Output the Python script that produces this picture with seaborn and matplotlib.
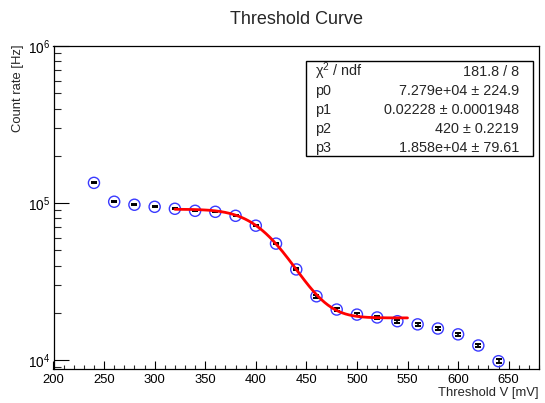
import math
import numpy as np
import pandas as pd
import matplotlib
matplotlib.use("Agg")
import matplotlib.pyplot as plt
from matplotlib.patches import Rectangle
from matplotlib.ticker import LogLocator, FixedLocator, NullFormatter
import seaborn as sns

# ---- data ----
threshold = [240, 260, 280, 300, 320, 340, 360, 380, 400, 420, 440,
             460, 480, 500, 520, 540, 560, 580, 600, 620, 640]
rate = [1.345e5, 1.02e5, 9.76e4, 9.47e4, 9.2e4, 8.93e4, 8.8e4, 8.3e4, 7.18e4,
        5.52e4, 3.78e4, 2.55e4, 2.1e4, 1.95e4, 1.87e4, 1.77e4, 1.69e4,
        1.59e4, 1.46e4, 1.24e4, 9.85e3]
rate_err = [1000, 880, 860, 840, 830, 820, 810, 790, 740, 650, 540,
            450, 410, 390, 380, 370, 360, 350, 340, 310, 290]
fit_range = [320, 550]
par_names = ["p0", "p1", "p2", "p3"]
par_values = [7.279e4, 0.02228, 420.0, 1.858e4]
par_labels = ["7.279e+04 \u00b1 224.9", "0.02228 \u00b1 0.0001948",
              "420 \u00b1 0.2219", "1.858e+04 \u00b1 79.61"]
chi2_label = "181.8 / 8"

df = pd.DataFrame({"threshold": threshold, "rate": rate, "err": rate_err})

fx = np.linspace(fit_range[0], fit_range[1], 200)
p0, p1, p2, p3 = par_values
fy = [p0 / 2 * math.erfc(p1 * (x - p2)) + p3 for x in fx]
fit_df = pd.DataFrame({"x": fx, "y": fy})

# ---- style ----
sns.set_theme(style="ticks")
plt.rcParams["font.family"] = ["Liberation Sans", "DejaVu Sans"]
plt.rcParams["mathtext.fontset"] = "custom"
plt.rcParams["mathtext.rm"] = "Liberation Sans"
plt.rcParams["mathtext.it"] = "Liberation Sans:italic"
plt.rcParams["mathtext.bf"] = "Liberation Sans:bold"

W, H = 545, 403
fig = plt.figure(figsize=(W / 100, H / 100), dpi=100)
L, R, T, B = 53.5, 539, 46, 368.5
ax = fig.add_axes([L / W, 1 - B / H, (R - L) / W, (B - T) / H])

ax.errorbar(df["threshold"], df["rate"], yerr=df["err"], fmt="none",
            ecolor="black", elinewidth=1.2, capsize=2.0, capthick=1.4, zorder=2)
sns.scatterplot(data=df, x="threshold", y="rate", ax=ax, marker="o",
                s=64, facecolors="none", edgecolor="#3a3aff", linewidth=1.0,
                zorder=3, legend=False)
sns.lineplot(data=fit_df, x="x", y="y", ax=ax, color="red", linewidth=2.0,
             zorder=4, legend=False)

ax.set_yscale("log")
ax.set_xlim(200, 680)
ax.set_ylim(8850, 1e6)
ax.set_xlabel("")
ax.set_ylabel("")

ax.xaxis.set_major_locator(FixedLocator(np.arange(200, 651, 50)))
ax.xaxis.set_minor_locator(FixedLocator(np.arange(200, 681, 10)))
ax.yaxis.set_major_locator(LogLocator(base=10, numticks=10))
ax.yaxis.set_minor_locator(LogLocator(base=10, subs=np.arange(2, 10), numticks=20))
ax.yaxis.set_minor_formatter(NullFormatter())

ax.tick_params(axis="x", which="major", direction="in", length=5.8, width=0.8,
               labelsize=9.4, pad=4, colors="black", top=False)
ax.tick_params(axis="x", which="minor", direction="in", length=2.9, width=0.8,
               top=False)
ax.tick_params(axis="y", which="major", direction="in", length=11, width=0.8,
               labelsize=9.8, pad=2.5, colors="black", right=False)
ax.tick_params(axis="y", which="minor", direction="in", length=5, width=0.8,
               right=False)
for s in ax.spines.values():
    s.set_visible(True)
    s.set_color("black")
    s.set_linewidth(0.9)

# titles
fig.text(296 / W, 1 - 20 / H, "Threshold Curve", ha="center", va="center",
         fontsize=13)
fig.text(539 / W, 1 - 393 / H, "Threshold V [mV]", ha="right", va="center",
         fontsize=9.4)
fig.text(18 / W, 1 - 44 / H, "Count rate [Hz]", ha="center", va="top",
         rotation=90, fontsize=9.4)

# stats box
bx0, by0, bx1, by1 = 306, 61, 533, 156
fig.patches.append(Rectangle((bx0 / W, 1 - by1 / H), (bx1 - bx0) / W,
                             (by1 - by0) / H, transform=fig.transFigure,
                             facecolor="white", edgecolor="black", lw=1.0,
                             zorder=5))
rows_y = [71.5, 91, 110, 129, 147.5]
names = [r"$\mathrm{\chi}^2$ / ndf"] + par_names
vals = [chi2_label] + par_labels
for yy, n, v in zip(rows_y, names, vals):
    fig.text(315 / W, 1 - yy / H, n, ha="left", va="center", fontsize=10.4,
             zorder=6)
    fig.text(519 / W, 1 - yy / H, v, ha="right", va="center", fontsize=10.4,
             zorder=6)

fig.savefig("out.png", dpi=100)
